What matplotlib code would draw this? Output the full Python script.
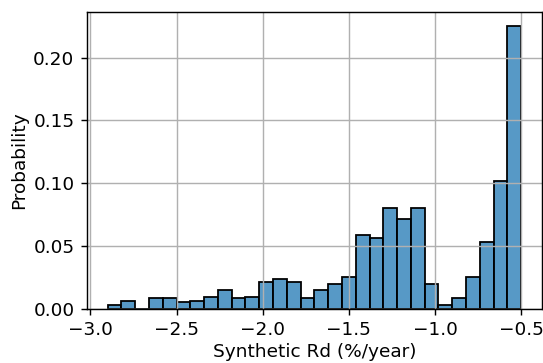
import numpy as np
import matplotlib
matplotlib.use("Agg")
import matplotlib.pyplot as plt
from matplotlib.colors import to_rgba

# histogram bins of synthetic Rd, 30 bins of 0.08 %/year
bin_start = -2.9
bin_width = 0.08
probs = [0.0032, 0.0064, 0.0, 0.0085, 0.0085, 0.0056, 0.0066, 0.0096, 0.0152, 0.0085,
         0.0096, 0.0215, 0.0239, 0.0213, 0.0085, 0.0152, 0.0202, 0.0250, 0.0585, 0.0564,
         0.0803, 0.0713, 0.0803, 0.0202, 0.0032, 0.0085, 0.0250, 0.0529, 0.1021, 0.2250]

edges = bin_start + bin_width * np.arange(len(probs) + 1)
centers = (edges[:-1] + edges[1:]) / 2

plt.rcParams["font.size"] = 10.4

fig, ax = plt.subplots(figsize=(543 / 128, 363 / 128), dpi=128)
ax.hist(centers, bins=edges, weights=probs,
        facecolor=to_rgba("#1f77b4", 0.75), edgecolor="black", linewidth=1.0)
ax.set_xlabel("Synthetic Rd (%/year)", labelpad=2)
ax.set_ylabel("Probability", labelpad=3)
plt.grid()
plt.subplots_adjust(left=0.160, right=0.998, top=0.967, bottom=0.149)
plt.savefig("out.png", dpi=128)
